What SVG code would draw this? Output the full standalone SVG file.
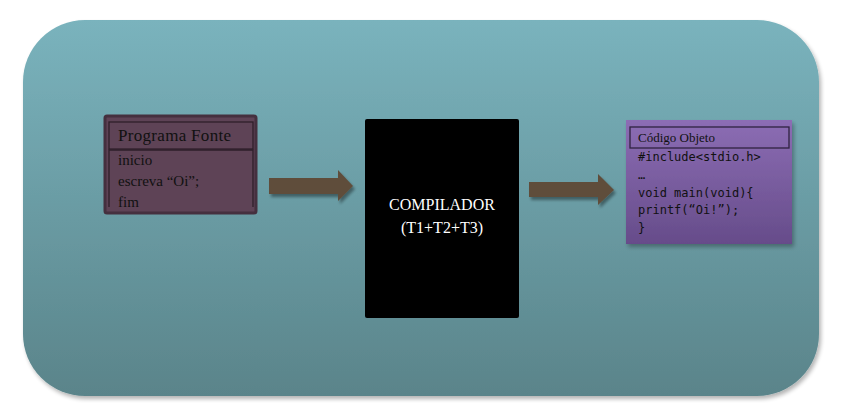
<svg xmlns="http://www.w3.org/2000/svg" width="841" height="420" viewBox="0 0 841 420">
<defs>
<linearGradient id="bg" x1="0" y1="0" x2="0" y2="1">
<stop offset="0" stop-color="#7ab3bd"/>
<stop offset="1" stop-color="#5a848a"/>
</linearGradient>
<linearGradient id="obj" x1="0" y1="0" x2="0" y2="1">
<stop offset="0" stop-color="#8c6db4"/>
<stop offset="1" stop-color="#664c8a"/>
</linearGradient>
<filter id="sh" x="-10%" y="-10%" width="125%" height="130%">
<feGaussianBlur in="SourceAlpha" stdDeviation="2"/>
<feOffset dx="2" dy="3" result="b"/>
<feComponentTransfer><feFuncA type="linear" slope="0.3"/></feComponentTransfer>
<feMerge><feMergeNode/><feMergeNode in="SourceGraphic"/></feMerge>
</filter>
<filter id="ash" x="-10%" y="-20%" width="130%" height="160%">
<feGaussianBlur in="SourceAlpha" stdDeviation="1.5"/>
<feOffset dx="2" dy="3"/>
<feComponentTransfer><feFuncA type="linear" slope="0.4"/></feComponentTransfer>
<feMerge><feMergeNode/><feMergeNode in="SourceGraphic"/></feMerge>
</filter>
<style>
.serif{font-family:"Liberation Serif","DejaVu Serif",serif;}
.mono{font-family:"DejaVu Sans Mono","Liberation Mono",monospace;font-size:12px;fill:#111;}
.arrow{fill:#5f4d3b;}
</style>
</defs>
<rect x="23" y="20" width="796" height="376" rx="62" ry="62" fill="url(#bg)" filter="url(#sh)"/>

<g id="connectors" filter="url(#ash)">
<polygon class="arrow" points="269,178 338,178 338,170 353,186 338,201 338,194 269,194"/>
<polygon class="arrow" points="529,182 598,182 598,174 614,190 598,205 598,197 529,197"/>
</g>

<g id="programa-fonte">
<rect x="105" y="116" width="151" height="97" fill="#5e4356" stroke="#45303f" stroke-width="3" rx="2"/>
<rect x="109" y="122" width="144" height="27" fill="none" stroke="#2e1f2a" stroke-width="1.3"/>
<polyline points="109,207 109,150 253,150 253,207" fill="none" stroke="#2e1f2a" stroke-width="1.3"/>
<text class="serif" x="118" y="141" font-size="17" textLength="113" fill="#111">Programa Fonte</text>
<text class="serif" x="118" y="165" font-size="15" fill="#111">inicio</text>
<text class="serif" x="118" y="186" font-size="15" fill="#111">escreva “Oi”;</text>
<text class="serif" x="118" y="207" font-size="15" fill="#111">fim</text>
</g>

<g id="compilador">
<rect x="365" y="119" width="154" height="199" rx="2" fill="#000"/>
<text class="serif" x="442" y="210" font-size="16" fill="#fff" text-anchor="middle">COMPILADOR</text>
<text class="serif" x="442" y="233" font-size="16" fill="#fff" text-anchor="middle">(T1+T2+T3)</text>
</g>

<g id="codigo-objeto">
<rect x="626" y="120" width="166" height="124" fill="url(#obj)" filter="url(#sh)"/>
<rect x="630" y="127" width="159" height="21" fill="none" stroke="#2f2340" stroke-width="1.3"/>
<text class="serif" x="638" y="142" font-size="13" fill="#111">Código Objeto</text>
<text class="mono" x="638" y="161">#include&lt;stdio.h&gt;</text>
<text class="mono" x="638" y="179">…</text>
<text class="mono" x="638" y="197">void main(void){</text>
<text class="mono" x="638" y="214">printf(“Oi!”);</text>
<text class="mono" x="638" y="232">}</text>
</g>
</svg>
